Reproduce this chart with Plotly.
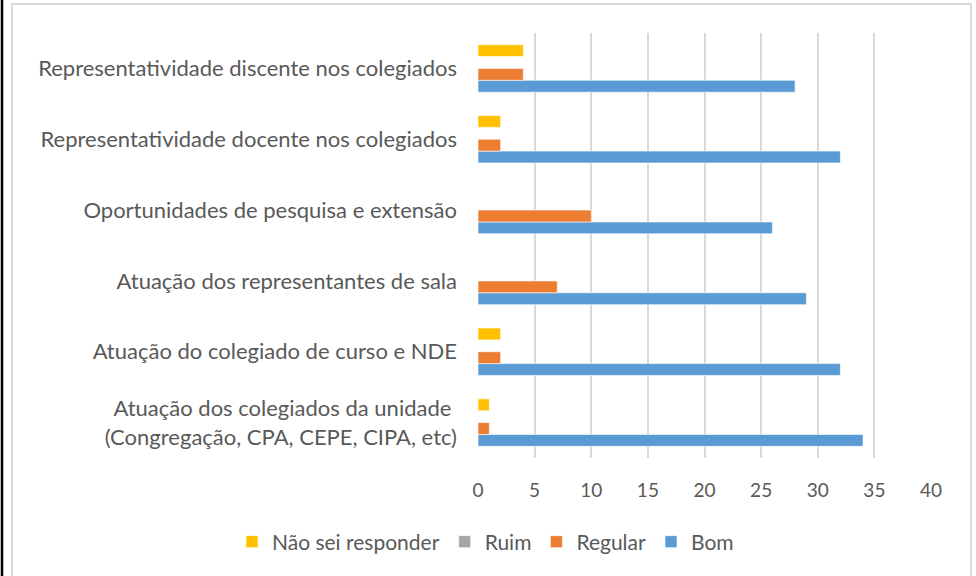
import plotly.graph_objects as go

categories = [
    "Atuação dos colegiados da unidade <br>(Congregação, CPA, CEPE, CIPA, etc)",
    "Atuação do colegiado de curso e NDE",
    "Atuação dos representantes de sala",
    "Oportunidades de pesquisa e extensão",
    "Representatividade docente nos colegiados",
    "Representatividade discente nos colegiados",
]
bom = [34, 32, 29, 26, 32, 28]
regular = [1, 2, 7, 10, 2, 4]
ruim = [0, 0, 0, 0, 0, 0]
nao_sei = [1, 2, 0, 0, 2, 4]
x_ticks = [0, 5, 10, 15, 20, 25, 30, 35, 40]

series = [
    ("Bom", bom, "#5B9BD5"),
    ("Regular", regular, "#ED7D31"),
    ("Ruim", ruim, "#A5A5A5"),
    ("Não sei responder", nao_sei, "#FFC000"),
]

fig = go.Figure()
for name, vals, col in series:
    fig.add_trace(go.Bar(
        y=categories, x=vals, name=name, orientation="h",
        marker=dict(color=col, line=dict(color="white", width=0.6)),
    ))

FONT = "Lato"
TXT = "#595959"
L, R, T, B = 478, 45, 33, 118
W, H = 976, 576
pw, ph = W - L - R, H - T - B

def px_x(px):
    return (px - L) / pw

def px_y(py):
    return (H - B - py) / ph

fig.update_layout(
    width=W, height=H,
    margin=dict(l=L, r=R, t=T, b=B),
    paper_bgcolor="white", plot_bgcolor="white",
    barmode="group", bargap=0.33, bargroupgap=0,
    font=dict(family=FONT, color=TXT, size=19),
    showlegend=True,
    legend=dict(
        orientation="h", traceorder="reversed",
        x=px_x(232), xanchor="left", y=px_y(542), yanchor="middle",
        font=dict(size=21, color=TXT, family=FONT),
        itemwidth=30,
    ),
    xaxis=dict(
        range=[0, 40], tickvals=x_ticks, showgrid=True,
        gridcolor="#D9D9D9", gridwidth=1.5, zeroline=False,
        showline=False, ticks="", ticklabelstandoff=19,
        tickfont=dict(size=19, color=TXT, family=FONT), fixedrange=True,
    ),
    yaxis=dict(
        showgrid=False, zeroline=False, showline=False, ticks="",
        ticklabelstandoff=20,
        tickfont=dict(size=22, color=TXT, family=FONT),
    ),
    shapes=[
        dict(type="rect", xref="paper", yref="paper",
             x0=px_x(12), x1=px_x(971), y0=px_y(585), y1=px_y(4),
             line=dict(color="#D9D9D9", width=2), fillcolor="rgba(0,0,0,0)", layer="below"),
        dict(type="line", xref="paper", yref="paper",
             x0=px_x(2), x1=px_x(2), y0=px_y(590), y1=px_y(-10),
             line=dict(color="black", width=2.5)),
    ],
)

fig.write_html("out.html", config={"displayModeBar": False},
               post_script="document.body.style.margin='0';")
